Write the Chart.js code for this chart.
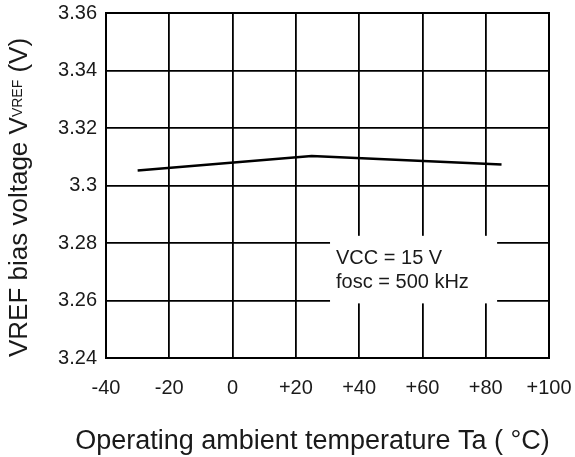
<!DOCTYPE html>
<html>
<head>
<meta charset="utf-8">
<script src="https://cdn.jsdelivr.net/npm/chart.js@4.4.1/dist/chart.umd.min.js"></script>
<style>
  html, body { margin: 0; padding: 0; background: #ffffff; }
  #wrap { width: 575px; height: 457px; position: relative; }
</style>
</head>
<body>
<div id="wrap"><canvas id="c" width="575" height="457"></canvas></div>
<script>
// ---- data ----
const temperatureC = [-30, 25, 85];
const vrefVolts = [3.3052, 3.3103, 3.3073];
const xTickValues = [-40, -20, 0, 20, 40, 60, 80, 100];
const yTickValues = [3.24, 3.26, 3.28, 3.30, 3.32, 3.34, 3.36];
const yTickLabels = ['3.24', '3.26', '3.28', '3.3', '3.32', '3.34', '3.36'];
const xTitle = 'Operating ambient temperature Ta ( \u00B0C)';
const yTitleMain = 'VREF bias voltage V';
const yTitleSub = 'VREF';
const yTitleTail = ' (V)';
const noteLines = ['VCC = 15 V', 'fosc = 500 kHz'];

const FONT = "'Liberation Sans', Arial, Helvetica, sans-serif";
const TXT = '#1a1a1a';

const decorPlugin = {
  id: 'decor',
  beforeDatasetsDraw(chart) {
    const {ctx, scales: {x, y}} = chart;
    const x0 = x.getPixelForValue(30.8), x1 = x.getPixelForValue(83.6);
    const y0 = y.getPixelForValue(3.2825), y1 = y.getPixelForValue(3.259);
    ctx.save();
    ctx.fillStyle = '#ffffff';
    ctx.fillRect(x0, y0, x1 - x0, y1 - y0);
    ctx.fillStyle = TXT;
    ctx.font = '20px ' + FONT;
    ctx.textBaseline = 'alphabetic';
    ctx.textAlign = 'left';
    ctx.fillText(noteLines[0], x0 + 6, y0 + 28);
    ctx.fillText(noteLines[1], x0 + 6, y0 + 52);
    ctx.restore();
  },
  afterDraw(chart) {
    const {ctx, chartArea: a} = chart;
    ctx.save();
    ctx.strokeStyle = '#000';
    ctx.lineWidth = 2;
    ctx.strokeRect(a.left, a.top, a.right - a.left, a.bottom - a.top);
    ctx.fillStyle = TXT;
    ctx.font = '27px ' + FONT;
    ctx.textAlign = 'center';
    ctx.textBaseline = 'alphabetic';
    ctx.fillText(xTitle, 312.5, 449);
    ctx.translate(27, 357);
    ctx.rotate(-Math.PI / 2);
    ctx.textAlign = 'left';
    let px = 0;
    ctx.font = '26px ' + FONT;
    ctx.fillText(yTitleMain, px, 0);
    px += ctx.measureText(yTitleMain).width;
    ctx.font = '14px ' + FONT;
    ctx.fillText(yTitleSub, px, -5);
    px += ctx.measureText(yTitleSub).width;
    ctx.font = '26px ' + FONT;
    ctx.fillText(yTitleTail, px, 0);
    ctx.restore();
  }
};

new Chart(document.getElementById('c'), {
  type: 'scatter',
  data: {
    datasets: [{
      data: temperatureC.map((t, i) => ({x: t, y: vrefVolts[i]})),
      showLine: true,
      borderColor: '#000',
      borderWidth: 2.5,
      pointRadius: 0,
      tension: 0,
      fill: false
    }]
  },
  options: {
    responsive: false,
    animation: false,
    devicePixelRatio: 1,
    layout: { padding: { top: 13, right: 26, left: 0, bottom: 0 } },
    plugins: { legend: { display: false }, tooltip: { enabled: false } },
    scales: {
      x: {
        type: 'linear',
        min: -40, max: 100,
        afterBuildTicks: (s) => { s.ticks = xTickValues.map(v => ({value: v})); },
        afterFit: (s) => { s.height = 99; s.paddingLeft = 0; s.paddingRight = 0; },
        ticks: {
          font: { family: FONT, size: 20 },
          color: TXT,
          padding: 18,
          maxRotation: 0,
          autoSkip: false,
          callback: (v) => (v > 0 ? '+' + v : String(v))
        },
        grid: { color: '#000', lineWidth: 1.8, drawTicks: false },
        border: { color: '#000', width: 2 }
      },
      y: {
        type: 'linear',
        min: 3.24, max: 3.36,
        afterBuildTicks: (s) => { s.ticks = yTickValues.map(v => ({value: v})); },
        afterFit: (s) => { s.width = 106; s.paddingTop = 0; s.paddingBottom = 0; },
        ticks: {
          font: { family: FONT, size: 20 },
          color: TXT,
          padding: 9,
          autoSkip: false,
          callback: (v) => {
            const i = yTickValues.findIndex(t => Math.abs(t - v) < 1e-6);
            return i >= 0 ? yTickLabels[i] : '';
          }
        },
        grid: { color: '#000', lineWidth: 1.8, drawTicks: false },
        border: { color: '#000', width: 2 }
      }
    }
  },
  plugins: [decorPlugin]
});
</script>
</body>
</html>
